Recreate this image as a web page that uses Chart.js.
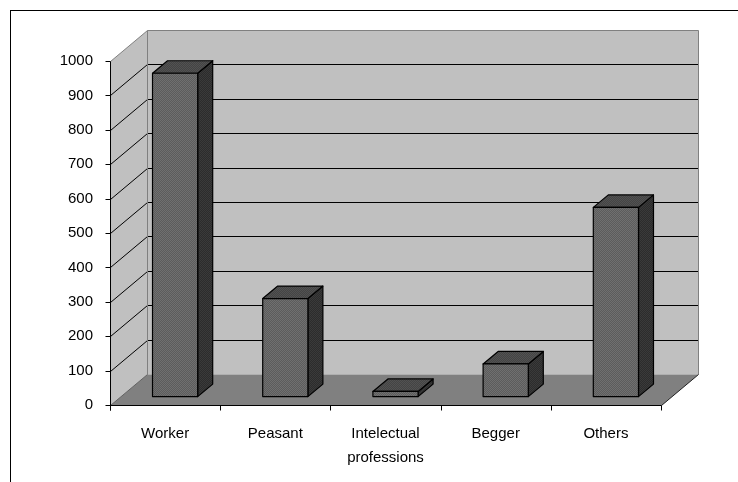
<!DOCTYPE html>
<html>
<head>
<meta charset="utf-8">
<title>Occupations</title>
<script src="https://cdn.jsdelivr.net/npm/chart.js@4/dist/chart.umd.min.js"></script>
<style>
  html, body { margin: 0; padding: 0; background: #fff; }
  #chart { display: block; }
</style>
</head>
<body>
<canvas id="chart" width="738" height="482"></canvas>
<script>
// ── Data ──
const categories = ['Worker', 'Peasant', ['Intelectual', 'professions'], 'Begger', 'Others'];
const counts = [940, 285, 15, 95, 550];
const yTicks = [0, 100, 200, 300, 400, 500, 600, 700, 800, 900, 1000];

// ── 3D look ──
const WALL_DX = 37, WALL_DY = 31;      // depth of the walls/floor
const BAR_OX = 10, BAR_OY = 8.4;       // bar front face sits inside the box
const BAR_DX = 15, BAR_DY = 12.5;      // bar depth
const FONT = "'Liberation Sans', Arial, sans-serif";

function checker(a, b) {
  const c = document.createElement('canvas');
  c.width = 2; c.height = 2;
  const g = c.getContext('2d');
  g.fillStyle = a; g.fillRect(0, 0, 2, 2);
  g.fillStyle = b; g.fillRect(0, 0, 1, 1); g.fillRect(1, 1, 1, 1);
  return g.createPattern(c, 'repeat');
}

function poly(ctx, pts, fill, stroke, lw) {
  ctx.beginPath();
  ctx.moveTo(pts[0][0], pts[0][1]);
  for (let i = 1; i < pts.length; i++) ctx.lineTo(pts[i][0], pts[i][1]);
  ctx.closePath();
  if (fill) { ctx.fillStyle = fill; ctx.fill(); }
  if (stroke) { ctx.strokeStyle = stroke; ctx.lineWidth = lw || 1; ctx.stroke(); }
}

function line(ctx, x1, y1, x2, y2, color, lw) {
  ctx.beginPath();
  ctx.moveTo(x1, y1);
  ctx.lineTo(x2, y2);
  ctx.strokeStyle = color;
  ctx.lineWidth = lw || 1;
  ctx.stroke();
}

const frame3d = {
  id: 'frame3d',
  beforeDraw(chart) {
    const ctx = chart.ctx;
    ctx.save();
    // outer frame (top and left)
    line(ctx, 10, 10.5, chart.width, 10.5, '#000');
    line(ctx, 10.5, 10, 10.5, chart.height, '#000');
    ctx.restore();
  },
  beforeDatasetsDraw(chart) {
    const ctx = chart.ctx;
    const ys = chart.scales.y, xs = chart.scales.x;
    const L = Math.round(xs.left) + 0.5, R = Math.round(xs.right) + 0.5;
    const B = Math.round(ys.getPixelForValue(0)) + 0.5;
    const T = Math.round(ys.getPixelForValue(yTicks[yTicks.length - 1])) + 0.5;
    ctx.save();

    // left wall, back wall, floor
    poly(ctx, [[L, B], [L + WALL_DX, B - WALL_DY], [L + WALL_DX, T - WALL_DY], [L, T]], '#c0c0c0');
    ctx.fillStyle = '#c0c0c0';
    ctx.fillRect(L + WALL_DX, T - WALL_DY, R - L, B - T);
    poly(ctx, [[L, B], [R, B], [R + WALL_DX, B - WALL_DY], [L + WALL_DX, B - WALL_DY]], '#808080');

    // gridlines on both walls
    yTicks.forEach(v => {
      if (v === 0 || v === yTicks[yTicks.length - 1]) return;
      const y = Math.round(ys.getPixelForValue(v)) + 0.5;
      line(ctx, L, y, L + WALL_DX, y - WALL_DY, '#000');
      line(ctx, L + WALL_DX, y - WALL_DY, R + WALL_DX, y - WALL_DY, '#000');
    });

    // wall edges
    line(ctx, L, T, L + WALL_DX, T - WALL_DY, '#808080');
    line(ctx, L + WALL_DX, T - WALL_DY, R + WALL_DX, T - WALL_DY, '#808080');
    line(ctx, L + WALL_DX, T - WALL_DY, L + WALL_DX, B - WALL_DY, '#808080');
    line(ctx, R + WALL_DX, T - WALL_DY, R + WALL_DX, B - WALL_DY, '#808080');
    line(ctx, L, B, L + WALL_DX, B - WALL_DY, '#606060');
    line(ctx, R, B, R + WALL_DX, B - WALL_DY, '#202020');

    // axes and tick marks
    line(ctx, L, T, L, B + 5, '#000');
    line(ctx, L, B, R, B, '#000');
    yTicks.forEach(v => {
      const y = Math.round(ys.getPixelForValue(v)) + 0.5;
      line(ctx, L - 5, y, L, y, '#000');
    });
    const step = (xs.right - xs.left) / categories.length;
    for (let i = 0; i <= categories.length; i++) {
      const x = Math.round(xs.left + i * step) + 0.5;
      line(ctx, x, B, x, B + 5, '#000');
    }
    ctx.restore();
  },
  afterDatasetsDraw(chart) {
    const ctx = chart.ctx;
    const front = checker('#5c5c5c', '#707070');
    const side = checker('#2c2c2c', '#3a3a3a');
    const top = checker('#444', '#525252');
    ctx.save();
    ctx.lineJoin = 'round';
    chart.getDatasetMeta(0).data.forEach(el => {
      const p = el.getProps(['x', 'y', 'base', 'width'], true);
      const x0 = p.x - p.width / 2 + BAR_OX, x1 = p.x + p.width / 2 + BAR_OX;
      const yt = p.y - BAR_OY, yb = p.base - BAR_OY;
      poly(ctx, [[x1, yt], [x1 + BAR_DX, yt - BAR_DY], [x1 + BAR_DX, yb - BAR_DY], [x1, yb]], side, '#000', 1.2);
      poly(ctx, [[x0, yt], [x1, yt], [x1 + BAR_DX, yt - BAR_DY], [x0 + BAR_DX, yt - BAR_DY]], top, '#000', 1.2);
      poly(ctx, [[x0, yt], [x1, yt], [x1, yb], [x0, yb]], front, '#000', 1.2);
    });
    ctx.restore();
  }
};

new Chart(document.getElementById('chart'), {
  type: 'bar',
  data: {
    labels: categories,
    datasets: [{
      data: counts,
      backgroundColor: 'rgba(0,0,0,0)',
      borderWidth: 0,
      barPercentage: 0.41,
      categoryPercentage: 1
    }]
  },
  options: {
    responsive: false,
    animation: false,
    events: [],
    layout: { padding: { top: 61, right: 77, left: 0, bottom: 0 } },
    plugins: {
      legend: { display: false },
      tooltip: { enabled: false }
    },
    scales: {
      x: {
        grid: { display: false },
        border: { display: false },
        afterFit: s => { s.height = 77; },
        ticks: {
          color: '#000',
          padding: 9,
          maxRotation: 0,
          font: { family: FONT, size: 15, lineHeight: 1.6 }
        }
      },
      y: {
        min: 0,
        max: 1000,
        grid: { display: false },
        border: { display: false },
        afterFit: s => { s.width = 110; },
        ticks: {
          stepSize: 100,
          color: '#000',
          padding: 9,
          callback: v => String(v),
          font: { family: FONT, size: 15 }
        }
      }
    }
  },
  plugins: [frame3d]
});
</script>
</body>
</html>
